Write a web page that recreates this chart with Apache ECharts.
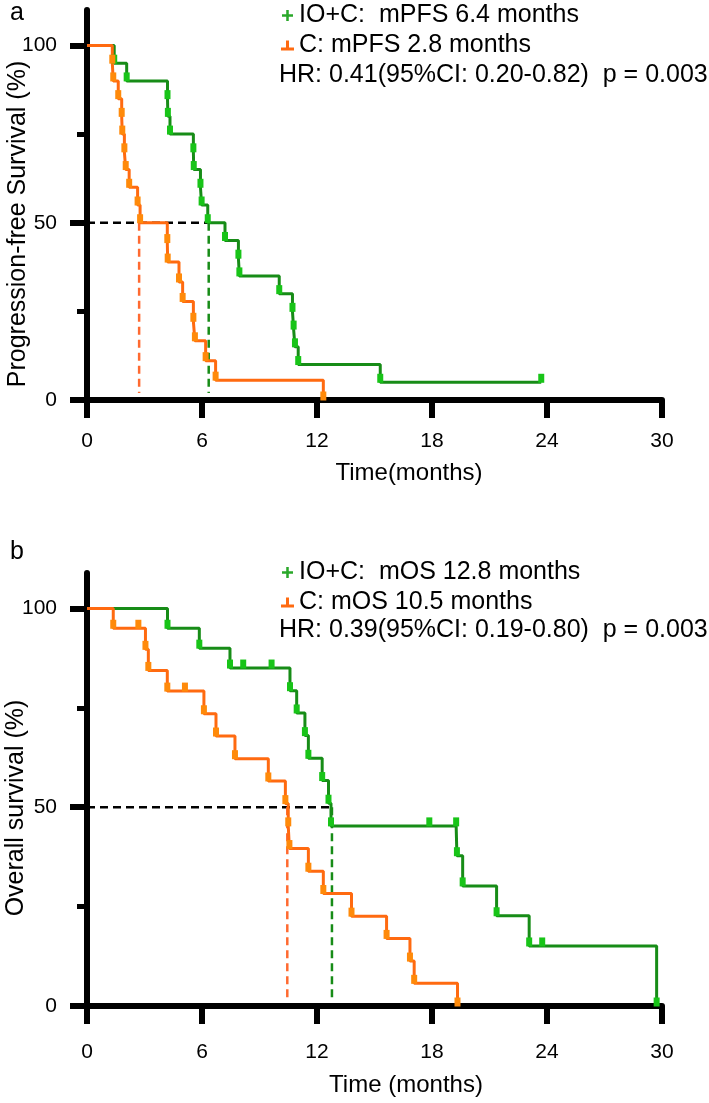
<!DOCTYPE html>
<html>
<head>
<meta charset="utf-8">
<title>Kaplan-Meier</title>
<script src="https://cdn.jsdelivr.net/npm/echarts@6/dist/echarts.min.js"></script>
<style>
html, body { margin: 0; padding: 0; background: #fff; }
#main { width: 709px; height: 1103px; }
</style>
</head>
<body>
<div id="main"></div>
<script>
// axis ticks
var monthStep = 6;
var survStep = 50;

// a: progression-free survival, IO+C
var pfsIoT = [0, 1.42, 2.07, 4.2, 4.22, 4.33, 5.55, 5.57, 5.92, 5.98, 6.3, 7.2, 7.9, 7.95, 10.03, 10.72, 10.78, 10.85, 11.02, 15.3, 23.7];
var pfsIoS = [100, 95, 90, 85, 80, 75, 70, 65, 60, 55, 50, 45, 40, 35, 30, 25, 20, 15, 10, 5, 5];
// a: progression-free survival, C
var pfsCT = [0, 1.32, 1.37, 1.63, 1.81, 1.84, 1.95, 2.02, 2.2, 2.64, 2.77, 4.19, 4.21, 4.8, 4.99, 5.55, 5.63, 6.19, 6.71, 12.33];
var pfsCS = [100, 95, 90, 85, 80, 75, 70, 65, 60, 55, 50, 44.4, 38.9, 33.3, 27.8, 22.2, 16.7, 11.1, 5.6, 0];
// b: overall survival, IO+C
var osIoT = [0, 4.2, 5.86, 7.46, 8.15, 9.63, 10.59, 10.94, 11.37, 11.55, 12.27, 12.6, 12.73, 17.86, 19.26, 19.3, 19.6, 21.37, 23.07, 23.75, 29.72];
var osIoS = [100, 95, 90, 85, 85, 85, 79.3, 73.7, 68, 62.3, 56.7, 51, 45.3, 45.3, 45.3, 37.8, 30.2, 22.7, 15.1, 15.1, 0];
// b: overall survival, C
var osCT = [0, 1.37, 2.68, 3.05, 3.2, 4.19, 5.11, 6.1, 6.73, 7.72, 9.46, 10.35, 10.5, 10.56, 11.55, 12.33, 13.8, 15.63, 16.85, 17.07, 19.33];
var osCS = [100, 95, 95, 89.7, 84.4, 79.2, 79.2, 73.5, 67.9, 62.2, 56.6, 50.9, 45.3, 39.6, 33.9, 28.3, 22.6, 17, 11.3, 5.7, 0];

// medians [IO+C, C]
var pfsMedian = [6.35, 2.72];
var osMedian = [12.78, 10.45];

var names = {
	pfsIo : 'IO+C:  mPFS 6.4 months',
	pfsC : 'C: mPFS 2.8 months',
	osIo : 'IO+C:  mOS 12.8 months',
	osC : 'C: mOS 10.5 months'
};
var hrTexts = [ 'HR: 0.41(95%CI: 0.20-0.82)  p = 0.003',
		'HR: 0.39(95%CI: 0.19-0.80)  p = 0.003' ];

var FONT = "'Liberation Sans', Arial, sans-serif";
var GREEN = '#178c17', GREEN_MARK = '#18c418';
var ORANGE = '#ff6a10', ORANGE_MARK = '#ff8a0a';

function pairs(t, s, from) {
	var out = [];
	for (var i = from || 0; i < t.length; i++) {
		out.push([ t[i], s[i] ]);
	}
	return out;
}

var myChart = echarts.init(document.getElementById('main'));

// each panel = outer grid (axis line up to the top, data) + inner grid (0..100 ticks and labels)
var panels = [ { top : 10, height : 390, ymax : 110, labelGap : 31 },
		{ top : 573, height : 433, ymax : 108.9, labelGap : 36 } ];

var grids = [], xAxes = [], yAxes = [];
for (var p = 0; p < panels.length; p++) {
	var pn = panels[p];
	var innerH = pn.height * 100 / pn.ymax;
	grids.push({ left : 87, top : pn.top, width : 575, height : pn.height, outerBoundsMode : 'none' });
	grids.push({ left : 87, top : pn.top + pn.height - innerH, width : 575, height : innerH, outerBoundsMode : 'none' });
	xAxes.push({
		gridIndex : 2 * p,
		type : 'value',
		min : 0,
		max : 30,
		interval : monthStep,
		axisLine : { show : true, lineStyle : { color : '#000', width : 6 } },
		axisTick : { show : true, length : 18, lineStyle : { color : '#000', width : 6 } },
		axisLabel : { show : true, color : '#000', fontSize : 21, fontFamily : FONT, margin : pn.labelGap },
		splitLine : { show : false }
	});
	xAxes.push({ gridIndex : 2 * p + 1, type : 'value', min : 0, max : 30, show : false });
	yAxes.push({
		gridIndex : 2 * p,
		type : 'value',
		min : 0,
		max : pn.ymax,
		axisLine : { show : true, lineStyle : { color : '#000', width : 6 } },
		axisTick : { show : false },
		axisLabel : { show : false },
		splitLine : { show : false }
	});
	yAxes.push({
		gridIndex : 2 * p + 1,
		type : 'value',
		min : 0,
		max : 100,
		interval : survStep,
		axisLine : { show : false },
		axisTick : { show : true, length : 17, lineStyle : { color : '#000', width : 6 } },
		minorTick : { show : true, splitNumber : 2, length : 10, lineStyle : { color : '#000', width : 5 } },
		axisLabel : { show : true, color : '#000', fontSize : 21, fontFamily : FONT, margin : 30 },
		splitLine : { show : false }
	});
}

function curve(name, t, s, ai, color) {
	return {
		name : name,
		type : 'line',
		step : 'end',
		xAxisIndex : ai,
		yAxisIndex : ai,
		data : pairs(t, s),
		showSymbol : false,
		color : color,
		lineStyle : { color : color, width : 3 },
		z : 3
	};
}

function marks(t, s, ai, color) {
	return {
		type : 'scatter',
		xAxisIndex : ai,
		yAxisIndex : ai,
		data : pairs(t, s, 1),
		symbol : 'rect',
		symbolSize : [ 6, 9 ],
		symbolOffset : [ 0, -4 ],
		itemStyle : { color : color, opacity : 1 },
		silent : true,
		z : 4
	};
}

function dashed(data, ai, color) {
	return {
		type : 'line',
		xAxisIndex : ai,
		yAxisIndex : ai,
		data : data,
		showSymbol : false,
		silent : true,
		lineStyle : { color : color, width : 2.5, type : [ 8, 5 ] },
		z : 2
	};
}

function medianLines(med, ai) {
	var far = Math.max(med[0], med[1]);
	return [ dashed([ [ 0, 50 ], [ far, 50 ] ], ai, '#000'),
			dashed([ [ med[0], 50 ], [ med[0], 2 ] ], ai, GREEN),
			dashed([ [ med[1], 50 ], [ med[1], 2 ] ], ai, '#ff6a30') ];
}

var plusIcon = 'path://M0,5H13V8H0Z M5,0H8V13H5Z';
var tickIcon = 'path://M0,10H13V13H0Z M5,3H8V13H5Z';

function legendFor(top, ioName, cName) {
	return {
		orient : 'vertical',
		left : 281,
		top : top,
		padding : 0,
		itemGap : 1,
		itemWidth : 13,
		itemHeight : 11,
		selectedMode : false,
		textStyle : { color : '#000', fontSize : 25, fontFamily : FONT, lineHeight : 29 },
		data : [ { name : ioName, icon : plusIcon, itemStyle : { color : '#2aa82a' } },
				{ name : cName, icon : tickIcon, itemStyle : { color : ORANGE } } ]
	};
}

function label(text, x, y, size, align, rot) {
	return {
		type : 'text',
		x : x,
		y : y,
		rotation : rot || 0,
		silent : true,
		style : {
			text : text,
			fill : '#000',
			fontSize : size,
			fontFamily : FONT,
			align : align || 'left',
			verticalAlign : 'middle'
		}
	};
}

var series = [];
series = series.concat(medianLines(pfsMedian, 0));
series.push(curve(names.pfsIo, pfsIoT, pfsIoS, 0, GREEN));
series.push(curve(names.pfsC, pfsCT, pfsCS, 0, ORANGE));
series.push(marks(pfsIoT, pfsIoS, 0, GREEN_MARK));
series.push(marks(pfsCT, pfsCS, 0, ORANGE_MARK));
series = series.concat(medianLines(osMedian, 2));
series.push(curve(names.osIo, osIoT, osIoS, 2, GREEN));
series.push(curve(names.osC, osCT, osCS, 2, ORANGE));
series.push(marks(osIoT, osIoS, 2, GREEN_MARK));
series.push(marks(osCT, osCS, 2, ORANGE_MARK));

var option = {
	animation : false,
	backgroundColor : '#fff',
	grid : grids,
	xAxis : xAxes,
	yAxis : yAxes,
	legend : [ legendFor(1, names.pfsIo, names.pfsC),
			legendFor(558, names.osIo, names.osC) ],
	graphic : [ label('a', 10, 13, 25),
			label('b', 10, 552, 25),
			label(hrTexts[0], 279, 75, 25),
			label(hrTexts[1], 279, 630, 25),
			label('Time(months)', 409, 473, 24, 'center'),
			label('Time (months)', 406, 1085, 24, 'center'),
			label('Progression-free Survival (%)', 18, 224, 25, 'center', Math.PI / 2),
			label('Overall survival (%)', 16, 808, 25, 'center', Math.PI / 2) ],
	series : series
};
myChart.setOption(option);
</script>
</body>
</html>
